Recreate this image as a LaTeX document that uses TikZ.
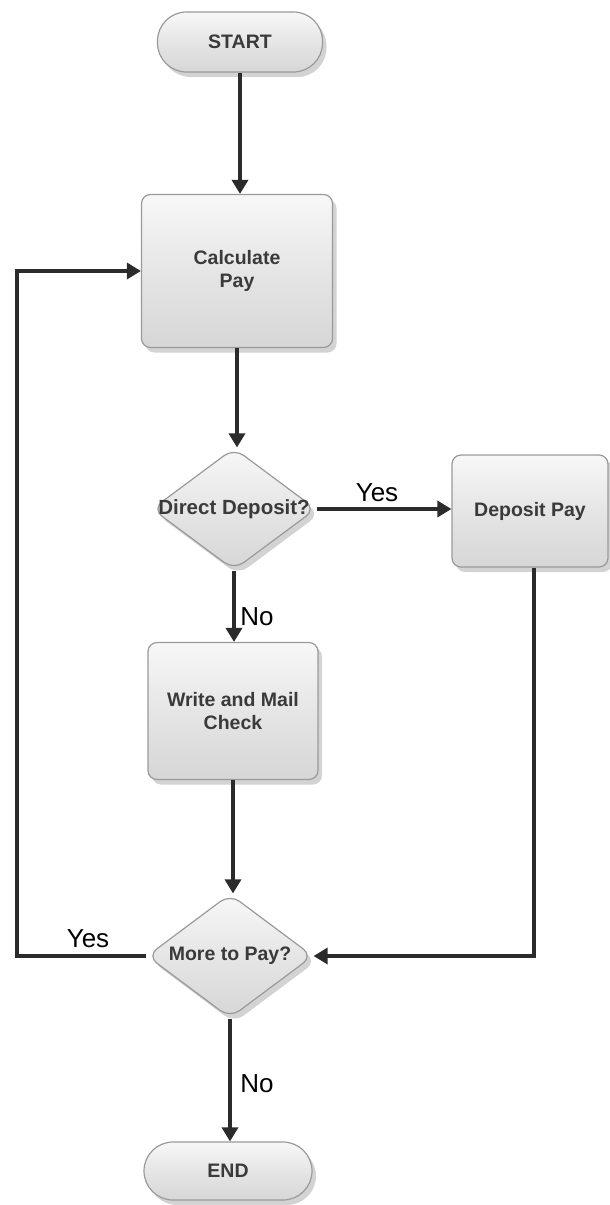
\documentclass[tikz,border=0pt]{standalone}
\usepackage{fontspec}
\setmainfont{Liberation Sans}
\usetikzlibrary{shapes.geometric,arrows.meta,shadows}
\definecolor{txt}{HTML}{3A3A3A}
\definecolor{ln}{HTML}{2B2B2B}
\definecolor{bd}{HTML}{9A9A9A}
\tikzset{
  base/.style={draw=bd, line width=1.2pt, top color=gray!6, bottom color=gray!32, middle color=gray!20,
    drop shadow={opacity=0.35, shadow xshift=4pt, shadow yshift=-5pt},
    font=\fontsize{19.5}{23}\selectfont\bfseries, text=txt, align=center, inner sep=0pt},
  pill/.style={base, rectangle, rounded corners=29pt},
  proc/.style={base, rectangle, rounded corners=9pt},
  dec/.style={base, diamond, rounded corners=12pt},
  conn/.style={draw=ln, line width=3.4pt, -{Triangle[length=14pt,width=16pt]}},
  lbl/.style={font=\fontsize{26}{30}\selectfont, text=black, inner sep=0pt}
}
\begin{document}
\begin{tikzpicture}[x=1pt,y=-1pt]
\useasboundingbox (0,0) rectangle (610,1205);
\node[pill, minimum width=165pt, minimum height=60pt] (start) at (240,42) {START};
\node[proc, minimum width=191pt, minimum height=153pt] (calc) at (237,271) {Calculate\\Pay};
\node[dec, minimum width=164pt, minimum height=122pt] (dd) at (234,509) {\makebox[0pt]{\fontsize{20.5}{23}\selectfont Direct Deposit?}};
\node[proc, minimum width=156pt, minimum height=112pt] (dep) at (530,511) {Deposit Pay};
\node[proc, minimum width=170pt, minimum height=137pt] (write) at (233,711) {Write and Mail\\Check};
\node[dec, minimum width=166pt, minimum height=124pt] (more) at (230,956) {\makebox[0pt]{More to Pay?}};
\node[pill, minimum width=168pt, minimum height=58pt] (end) at (228,1171) {END};

\coordinate (lb) at (17,956);
\coordinate (lt) at (17,271);
\coordinate (dr) at (534,956);

\draw[conn] (start.south) -- (start.south |- calc.north);
\draw[conn] (calc.south) -- (calc.south |- dd.north);
\draw[conn] (dd.east) -- (dd.east -| dep.west);
\draw[conn] (dd.south) -- (dd.south |- write.north);
\draw[conn] (write.south) -- (write.south |- more.north);
\draw[conn] (dr |- dep.south) -- (dr) -- (more.east);
\draw[conn] (more.west) -- (lb) -- (lt) -- (calc.west);
\draw[conn] (more.south) -- (more.south |- end.north);

\node[lbl] (y1) at (377,493) {Yes};
\node[lbl] (n1) at (257,617) {No};
\node[lbl] (y2) at (88,939) {Yes};
\node[lbl] (n2) at (257,1084) {No};
\end{tikzpicture}
\end{document}
